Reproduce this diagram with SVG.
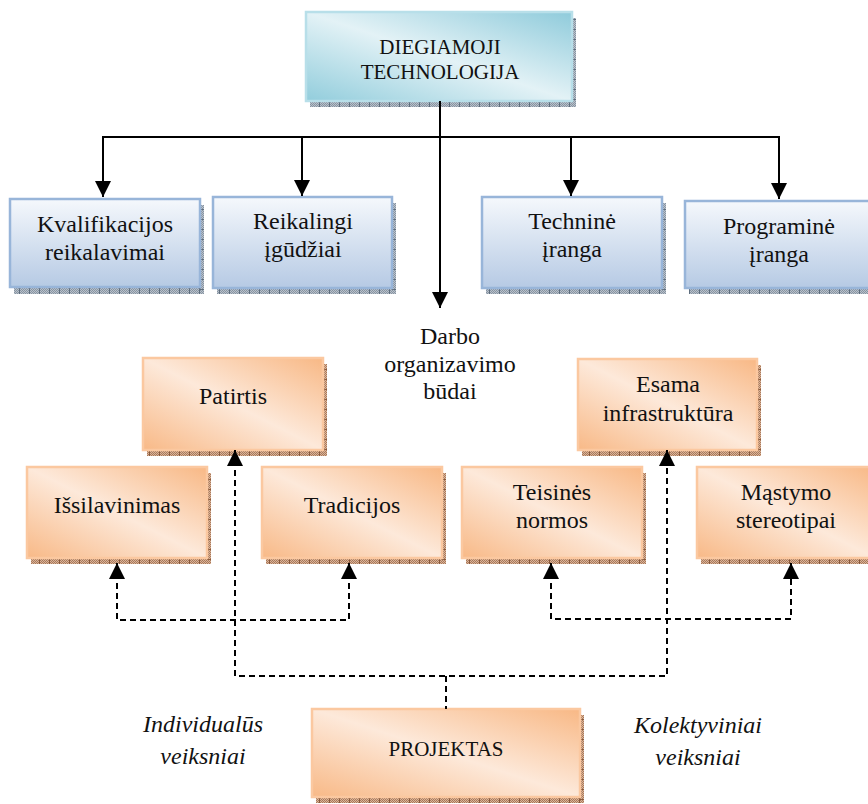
<svg xmlns="http://www.w3.org/2000/svg" width="868" height="804" viewBox="0 0 868 804">
  <defs>
    <!-- box fills -->
    <linearGradient id="gAqua" x1="1" y1="0" x2="0" y2="1">
      <stop offset="0" stop-color="#8fcbdb"/>
      <stop offset="0.5" stop-color="#e3f2f6"/>
      <stop offset="1" stop-color="#92cddc"/>
    </linearGradient>
    <linearGradient id="gBlue" x1="0" y1="0" x2="0" y2="1">
      <stop offset="0" stop-color="#f5f8fc"/>
      <stop offset="1" stop-color="#b6cae4"/>
    </linearGradient>
    <linearGradient id="gOrange" x1="1" y1="0" x2="0" y2="1">
      <stop offset="0" stop-color="#f8b885"/>
      <stop offset="0.5" stop-color="#fde9da"/>
      <stop offset="1" stop-color="#f8b987"/>
    </linearGradient>

    <!-- textured shadow strips -->
    <pattern id="chkB" width="2" height="2" patternUnits="userSpaceOnUse">
      <rect width="2" height="2" fill="#b9c1ca"/>
      <rect width="1" height="1" fill="#8794a2"/>
      <rect x="1" y="1" width="1" height="1" fill="#8794a2"/>
    </pattern>
    <pattern id="chkO" width="2" height="2" patternUnits="userSpaceOnUse">
      <rect width="2" height="2" fill="#d9b59a"/>
      <rect width="1" height="1" fill="#a9785a"/>
      <rect x="1" y="1" width="1" height="1" fill="#a9785a"/>
    </pattern>
    <pattern id="shBh" width="10" height="10" patternUnits="userSpaceOnUse">
      <rect width="10" height="10" fill="url(#chkB)"/>
      <rect x="9" width="1" height="10" fill="#5f6e7e"/>
    </pattern>
    <pattern id="shBv" width="10" height="10" patternUnits="userSpaceOnUse">
      <rect width="10" height="10" fill="url(#chkB)"/>
      <rect y="9" width="10" height="1" fill="#5f6e7e"/>
    </pattern>
    <pattern id="shOh" width="10" height="10" patternUnits="userSpaceOnUse">
      <rect width="10" height="10" fill="url(#chkO)"/>
      <rect x="9" width="1" height="10" fill="#8a5a3c"/>
    </pattern>
    <pattern id="shOv" width="10" height="10" patternUnits="userSpaceOnUse">
      <rect width="10" height="10" fill="url(#chkO)"/>
      <rect y="9" width="10" height="1" fill="#8a5a3c"/>
    </pattern>

    <marker id="arrow" markerUnits="userSpaceOnUse" markerWidth="16" markerHeight="16"
            viewBox="0 0 16 16" refX="16" refY="8" orient="auto-start-reverse">
      <path d="M0,0 L16,8 L0,16 z" fill="#000"/>
    </marker>
  </defs>

  <rect width="868" height="804" fill="#fff"/>

  <!-- top node -->
  <g id="diegiamoji">
    <rect fill="url(#shBh)" x="310" y="101" width="266" height="6"/>
    <rect fill="url(#shBv)" x="572" y="18" width="4" height="89"/>
    <rect fill="url(#gAqua)" stroke="#b8dfe9" stroke-width="2.5" x="306" y="12" width="266" height="89"/>
    <text font-family="Liberation Serif" font-size="21" fill="#111" text-anchor="middle" x="440" y="54">DIEGIAMOJI</text>
    <text font-family="Liberation Serif" font-size="21" fill="#111" text-anchor="middle" x="440" y="79">TECHNOLOGIJA</text>
  </g>

  <!-- first row -->
  <g id="kvalifikacijos">
    <rect fill="url(#shBh)" x="14" y="287" width="190" height="7"/>
    <rect fill="url(#shBv)" x="200" y="205" width="4" height="89"/>
    <rect fill="url(#gBlue)" stroke="#98b5d9" stroke-width="2.5" x="10" y="199" width="190" height="88"/>
    <text font-family="Liberation Serif" font-size="24" fill="#111" text-anchor="middle" x="105" y="232">Kvalifikacijos</text>
    <text font-family="Liberation Serif" font-size="24" fill="#111" text-anchor="middle" x="105" y="260">reikalavimai</text>
  </g>
  <g id="igudziai">
    <rect fill="url(#shBh)" x="217" y="288" width="179" height="6"/>
    <rect fill="url(#shBv)" x="392" y="203" width="4" height="91"/>
    <rect fill="url(#gBlue)" stroke="#98b5d9" stroke-width="2.5" x="213" y="197" width="179" height="91"/>
    <text font-family="Liberation Serif" font-size="24" fill="#111" text-anchor="middle" x="303" y="229">Reikalingi</text>
    <text font-family="Liberation Serif" font-size="24" fill="#111" text-anchor="middle" x="303" y="257">įgūdžiai</text>
  </g>
  <g id="technine">
    <rect fill="url(#shBh)" x="486" y="288" width="180" height="6"/>
    <rect fill="url(#shBv)" x="662" y="203" width="4" height="91"/>
    <rect fill="url(#gBlue)" stroke="#98b5d9" stroke-width="2.5" x="482" y="197" width="180" height="91"/>
    <text font-family="Liberation Serif" font-size="24" fill="#111" text-anchor="middle" x="572" y="229">Techninė</text>
    <text font-family="Liberation Serif" font-size="24" fill="#111" text-anchor="middle" x="572" y="257">įranga</text>
  </g>
  <g id="programine">
    <rect fill="url(#shBh)" x="689" y="288" width="188" height="6"/>
    <rect fill="url(#gBlue)" stroke="#98b5d9" stroke-width="2.5" x="685" y="201" width="188" height="87"/>
    <text font-family="Liberation Serif" font-size="24" fill="#111" text-anchor="middle" x="779" y="234">Programinė</text>
    <text font-family="Liberation Serif" font-size="24" fill="#111" text-anchor="middle" x="779" y="262">įranga</text>
  </g>

  <!-- free label under the main arrow -->
  <g id="darbo">
    <text font-family="Liberation Serif" font-size="24" fill="#111" text-anchor="middle" x="450" y="344">Darbo</text>
    <text font-family="Liberation Serif" font-size="24" fill="#111" text-anchor="middle" x="450" y="372">organizavimo</text>
    <text font-family="Liberation Serif" font-size="24" fill="#111" text-anchor="middle" x="450" y="399">būdai</text>
  </g>

  <!-- factor nodes -->
  <g id="patirtis">
    <rect fill="url(#shOh)" x="147" y="450" width="180" height="6"/>
    <rect fill="url(#shOv)" x="323" y="364" width="4" height="92"/>
    <rect fill="url(#gOrange)" stroke="#fbc8a0" stroke-width="2.5" x="143" y="358" width="180" height="92"/>
    <text font-family="Liberation Serif" font-size="24" fill="#111" text-anchor="middle" x="233" y="404">Patirtis</text>
  </g>
  <g id="esama">
    <rect fill="url(#shOh)" x="582" y="450" width="179" height="6"/>
    <rect fill="url(#shOv)" x="757" y="365" width="4" height="91"/>
    <rect fill="url(#gOrange)" stroke="#fbc8a0" stroke-width="2.5" x="578" y="359" width="179" height="91"/>
    <text font-family="Liberation Serif" font-size="24" fill="#111" text-anchor="middle" x="668" y="392">Esama</text>
    <text font-family="Liberation Serif" font-size="24" fill="#111" text-anchor="middle" x="668" y="421">infrastruktūra</text>
  </g>
  <g id="issilavinimas">
    <rect fill="url(#shOh)" x="31" y="558" width="180" height="6"/>
    <rect fill="url(#shOv)" x="207" y="473" width="4" height="91"/>
    <rect fill="url(#gOrange)" stroke="#fbc8a0" stroke-width="2.5" x="27" y="467" width="180" height="91"/>
    <text font-family="Liberation Serif" font-size="24" fill="#111" text-anchor="middle" x="117" y="513">Išsilavinimas</text>
  </g>
  <g id="tradicijos">
    <rect fill="url(#shOh)" x="266" y="558" width="180" height="6"/>
    <rect fill="url(#shOv)" x="442" y="473" width="4" height="91"/>
    <rect fill="url(#gOrange)" stroke="#fbc8a0" stroke-width="2.5" x="262" y="467" width="180" height="91"/>
    <text font-family="Liberation Serif" font-size="24" fill="#111" text-anchor="middle" x="352" y="513">Tradicijos</text>
  </g>
  <g id="teisines">
    <rect fill="url(#shOh)" x="466" y="558" width="180" height="6"/>
    <rect fill="url(#shOv)" x="642" y="473" width="4" height="91"/>
    <rect fill="url(#gOrange)" stroke="#fbc8a0" stroke-width="2.5" x="462" y="467" width="180" height="91"/>
    <text font-family="Liberation Serif" font-size="24" fill="#111" text-anchor="middle" x="552" y="500">Teisinės</text>
    <text font-family="Liberation Serif" font-size="24" fill="#111" text-anchor="middle" x="552" y="528">normos</text>
  </g>
  <g id="mastymo">
    <rect fill="url(#shOh)" x="701" y="558" width="178" height="6"/>
    <rect fill="url(#gOrange)" stroke="#fbc8a0" stroke-width="2.5" x="697" y="467" width="178" height="91"/>
    <text font-family="Liberation Serif" font-size="24" fill="#111" text-anchor="middle" x="786" y="500">Mąstymo</text>
    <text font-family="Liberation Serif" font-size="24" fill="#111" text-anchor="middle" x="786" y="528">stereotipai</text>
  </g>

  <!-- bottom node -->
  <g id="projektas">
    <rect fill="url(#shOh)" x="316" y="797" width="268" height="6"/>
    <rect fill="url(#shOv)" x="580" y="715" width="4" height="88"/>
    <rect fill="url(#gOrange)" stroke="#fbc8a0" stroke-width="2.5" x="312" y="709" width="268" height="88"/>
    <text font-family="Liberation Serif" font-size="21" fill="#111" text-anchor="middle" x="446" y="756">PROJEKTAS</text>
  </g>

  <!-- group captions -->
  <g id="individualus">
    <text font-family="Liberation Serif" font-style="italic" font-size="24" fill="#111" text-anchor="middle" x="203" y="732">Individualūs</text>
    <text font-family="Liberation Serif" font-style="italic" font-size="24" fill="#111" text-anchor="middle" x="203" y="764">veiksniai</text>
  </g>
  <g id="kolektyviniai">
    <text font-family="Liberation Serif" font-style="italic" font-size="24" fill="#111" text-anchor="middle" x="698" y="733">Kolektyviniai</text>
    <text font-family="Liberation Serif" font-style="italic" font-size="24" fill="#111" text-anchor="middle" x="698" y="765">veiksniai</text>
  </g>

  <!-- connectors -->
  <g id="connectors" fill="none" stroke="#000" stroke-width="2">
    <path d="M440,101 V308" marker-end="url(#arrow)"/>
    <path d="M103,137 H779"/>
    <path d="M103,136 V197" marker-end="url(#arrow)"/>
    <path d="M302,136 V196" marker-end="url(#arrow)"/>
    <path d="M571,136 V196" marker-end="url(#arrow)"/>
    <path d="M779,136 V199" marker-end="url(#arrow)"/>

    <g stroke-dasharray="6 4">
      <path d="M117,563 V620 H349 V563" marker-start="url(#arrow)" marker-end="url(#arrow)"/>
      <path d="M551,563 V619 H791 V563" marker-start="url(#arrow)" marker-end="url(#arrow)"/>
      <path d="M235,450 V676 H667 V450" marker-start="url(#arrow)" marker-end="url(#arrow)"/>
      <path d="M446,676 V709"/>
    </g>
  </g>
</svg>
